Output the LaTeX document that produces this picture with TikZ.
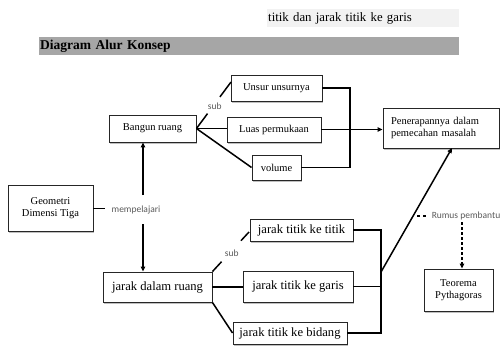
\documentclass[tikz,border=0pt]{standalone}
\usepackage{fontspec}
\setmainfont{Liberation Serif}
\newfontfamily\lblfont{Carlito}
\usetikzlibrary{arrows.meta,shadows,calc}
\definecolor{bandlight}{HTML}{F2F2F2}
\definecolor{banddark}{HTML}{A6A6A6}
\definecolor{lblgray}{HTML}{595959}
\begin{document}
\begin{tikzpicture}[x=1pt,y=-1pt,
  box/.style={draw=black!85, line width=0.9pt, fill=white, inner sep=0pt, align=center,
    drop shadow={shadow xshift=1.3pt, shadow yshift=-1.5pt, fill=black, opacity=0.25},
    font=\fontsize{10.5}{12}\selectfont},
  bigbox/.style={box, font=\fontsize{12.6}{14}\selectfont},
  conn/.style={line width=1.5pt, black},
  arr/.style={conn, -{Triangle[length=5pt,width=4.5pt]}},
  lbl/.style={font=\lblfont\fontsize{9.5}{11}\selectfont, text=lblgray, inner sep=1pt},
  band/.style={anchor=north west, inner ysep=0pt, inner xsep=1pt, minimum height=18, align=left}
]
\useasboundingbox (0,0) rectangle (502,354);

% header bands
\node[band, fill=bandlight, text width=190, font=\fontsize{12.8}{14}\selectfont] (band1) at (267,9) {titik dan jarak titik ke garis};
\node[band, fill=banddark, text width=418, font=\bfseries\fontsize{13.5}{15}\selectfont] (band2) at (39,37) {Diagram Alur Konsep};

% boxes
\node[box, minimum width=91, minimum height=26] (unsur) at (276.5,88) {Unsur unsurnya};
\node[box, minimum width=87, minimum height=27] (bangun) at (152.5,128.5) {Bangun ruang};
\node[box, minimum width=94, minimum height=25] (luas) at (274,129.5) {Luas permukaan};
\node[box, minimum width=49, minimum height=25] (volume) at (276.5,167.5) {volume};
\node[box, minimum height=40, text width=100, inner xsep=8, align=left] (pen) at (441,128)
  {\makebox[86pt][s]{Penerapannya dalam}\\\makebox[86pt][s]{pemecahan masalah}};
\node[box, minimum width=85, minimum height=46] (geo) at (50.5,208) {Geometri\\Dimensi Tiga};
\node[bigbox, minimum width=109, minimum height=30] (jdr) at (157.5,287) {jarak dalam ruang};
\node[bigbox, minimum width=103, minimum height=22] (jtt) at (301.5,230) {jarak titik ke titik};
\node[bigbox, minimum width=110, minimum height=31] (jtg) at (298,286.5) {jarak titik ke garis};
\node[bigbox, minimum width=114, minimum height=22] (jtb) at (290,333) {jarak titik ke bidang};
\node[box, minimum width=69, minimum height=42] (teo) at (458.5,290) {Teorema\\Pythagoras};

% helper coordinates
\coordinate (u1) at (231,82);
\coordinate (t1) at (249,232);
\coordinate (b1) at (350,128);
\coordinate (b2) at (381,272);
\coordinate (p1) at (452,148);
\coordinate (g1) at (105,208.5);
\coordinate (m1) at (143,195);
\coordinate (m2) at (143,224);
\coordinate (d1) at (417,216);
\coordinate (d2) at (427,216);
\coordinate (r1) at (462,222);

% labels
\node[lbl] (mp) at (136,210) {mempelajari};
\node[lbl] (rp) at (466,216) {Rumus pembantu};

% Bangun ruang branches
\draw[conn] (bangun.east) -- ($(bangun.east)!0.32!(u1)$);
\draw[conn] ($(bangun.east)!0.68!(u1)$) -- (u1);
\node[lbl] (sub1) at ($(bangun.east)!0.47!(u1)+(2,0)$) {sub};
\draw[conn] (bangun.east) -- (bangun.east -| luas.west);
\draw[conn] (bangun.east) -- (volume.west);

% bracket 1
\draw[conn] (unsur.east) -| (b1) |- (volume.east);
\draw[arr] (luas.east) -- (luas.east -| pen.west);

% jarak dalam ruang branches
\draw[conn] (jdr.north east) -- ($(jdr.north east)!0.25!(t1)$);
\draw[conn] ($(jdr.north east)!0.78!(t1)$) -- (t1);
\node[lbl] (sub2) at ($(jdr.north east)!0.5!(t1)+(1,1)$) {sub};
\draw[conn] (jdr.east) -- (jdr.east -| jtg.west);
\draw[conn] (jdr.south east) -- (jtb.west);

% bracket 2
\draw[conn] (jtt.east) -| (b2) |- (jtb.east);
\draw[conn] (jtg.east) -- (jtg.east -| b2);
\draw[arr] (b2) -- (p1);

% geometri
\draw[conn] (geo.east |- g1) -- (g1);
\draw[arr] (m1) -- (m1 |- bangun.south);
\draw[arr] (m2) -- (m2 |- jdr.north);

% rumus pembantu
\draw[conn, dash pattern=on 3pt off 3pt] (d1) -- (d2);
\draw[conn, dash pattern=on 3pt off 2pt, -{Triangle[length=5pt,width=4.5pt]}] (r1) -- (r1 |- teo.north);
\end{tikzpicture}
\end{document}
